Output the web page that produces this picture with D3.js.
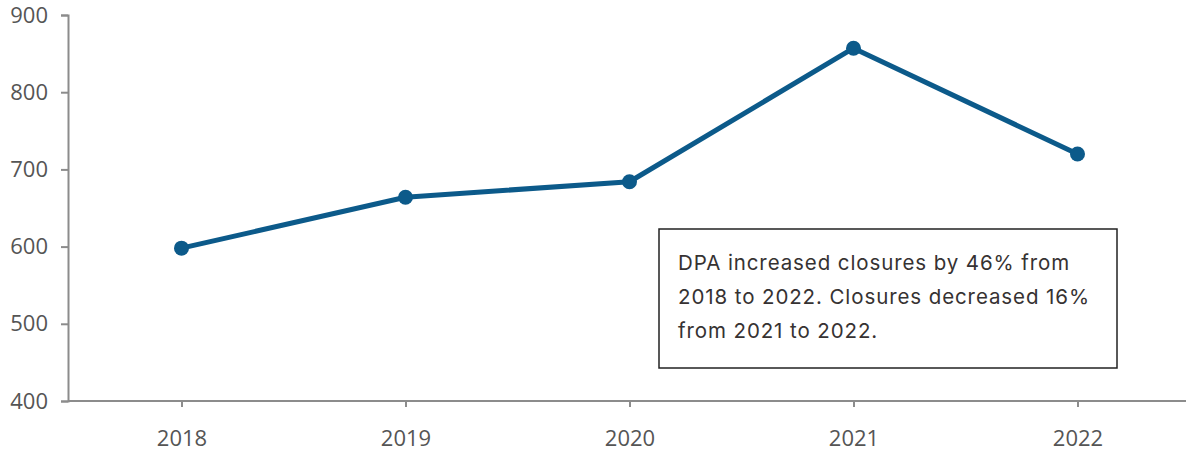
<!DOCTYPE html>
<html>
<head>
<meta charset="utf-8">
<script src="https://cdn.jsdelivr.net/npm/d3@7"></script>
<style>
  html, body { margin: 0; padding: 0; background: #fff; }
  svg { display: block; }
</style>
</head>
<body>
<svg id="chart" width="1186" height="452"></svg>
<script>
// Closures per year
const years = ["2018", "2019", "2020", "2021", "2022"];
const closures = [598, 664, 684, 857, 720];
const yTicks = [400, 500, 600, 700, 800, 900];
const noteLines = [
  "DPA increased closures by 46% from",
  "2018 to 2022. Closures decreased 16%",
  "from 2021 to 2022."
];

const svg = d3.select("#chart");
const W = 1186, H = 452;
const margin = { top: 15, bottom: 51, left: 68 };

const x = d3.scalePoint()
  .domain(years)
  .range([margin.left + 1.5, W + 3.5])
  .padding(0.5);

const y = d3.scaleLinear()
  .domain([400, 900])
  .range([H - margin.bottom, margin.top]);

const axisColor = "#8c8c8c";
const labelColor = "#555";
const axisFont = "22px 'Open Sans', sans-serif";

// x axis: ticks and labels, with a baseline running from the y axis to the edge
const gx = svg.append("g")
  .attr("transform", `translate(0,${H - margin.bottom})`)
  .call(d3.axisBottom(x).tickSize(6).tickSizeOuter(0).tickPadding(23));
gx.select(".domain").remove();
gx.append("line")
  .attr("x1", margin.left).attr("x2", W)
  .attr("stroke", axisColor).attr("stroke-width", 2);
gx.selectAll("line").attr("stroke", axisColor).attr("stroke-width", 2);
gx.selectAll("text")
  .attr("fill", labelColor)
  .style("font", axisFont);

// y axis
const gy = svg.append("g")
  .attr("transform", `translate(${margin.left},0)`)
  .call(d3.axisLeft(y).tickValues(yTicks).tickSize(7).tickSizeOuter(7).tickPadding(13));
gy.selectAll("path, line").attr("stroke", axisColor).attr("stroke-width", 2);
gy.selectAll("text")
  .attr("fill", labelColor)
  .style("font", axisFont);

// series line and markers
const lineColor = "#0c5a8a";
const line = d3.line()
  .x((d, i) => x(years[i]))
  .y(d => y(d));

svg.append("path")
  .datum(closures)
  .attr("d", line)
  .attr("fill", "none")
  .attr("stroke", lineColor)
  .attr("stroke-width", 5)
  .attr("stroke-linejoin", "round");

svg.append("g")
  .selectAll("circle")
  .data(closures)
  .join("circle")
  .attr("cx", (d, i) => x(years[i]))
  .attr("cy", d => y(d))
  .attr("r", 7.5)
  .attr("fill", lineColor);

// annotation box
const note = svg.append("g").attr("transform", "translate(659,229)");
note.append("rect")
  .attr("width", 458)
  .attr("height", 139)
  .attr("fill", "#fff")
  .attr("stroke", "#222")
  .attr("stroke-width", 1.5);
note.append("text")
  .attr("fill", "#363232")
  .style("font", "20.5px 'Inter', sans-serif")
  .style("letter-spacing", "0.9px")
  .selectAll("tspan")
  .data(noteLines)
  .join("tspan")
  .attr("x", 19)
  .attr("y", (d, i) => 41 + i * 34)
  .text(d => d);
</script>
</body>
</html>
